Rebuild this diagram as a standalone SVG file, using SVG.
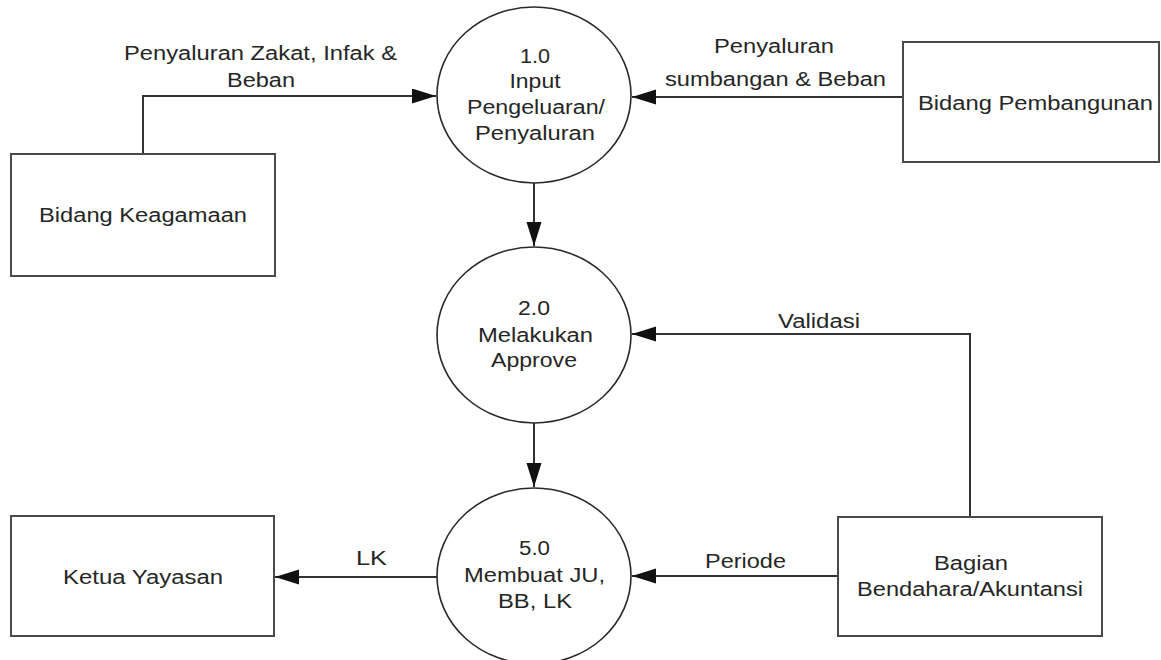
<svg xmlns="http://www.w3.org/2000/svg" width="1161" height="660" viewBox="0 0 1161 660">
  <style>
    .entity { fill: #ffffff; stroke: #4a4a4a; stroke-width: 2; }
    .process { fill: #ffffff; stroke: #2a2a2a; stroke-width: 1.6; }
    .flow { fill: none; stroke: #333333; stroke-width: 2; marker-end: url(#arrow); }
    text { font-family: "Liberation Sans", Arial, sans-serif; font-size: 20px; fill: #262626; text-anchor: middle; }
  </style>
  <defs>
    <marker id="arrow" markerUnits="userSpaceOnUse" markerWidth="25" markerHeight="16" refX="24" refY="7.5" orient="auto">
      <path d="M0,0 L24,7.5 L0,15 Z" fill="#111111"/>
    </marker>
  </defs>
  <rect width="1161" height="660" fill="#ffffff"/>

  <!-- data flows -->
  <g id="connectors">
    <polyline class="flow" points="143,154 143,96 436,96"/>
    <line class="flow" x1="903" y1="97" x2="632" y2="97"/>
    <line class="flow" x1="534" y1="183" x2="534" y2="246"/>
    <line class="flow" x1="534" y1="423" x2="534" y2="487"/>
    <polyline class="flow" points="970,517 970,334 632,334"/>
    <line class="flow" x1="838" y1="576" x2="632" y2="576"/>
    <line class="flow" x1="437" y1="577" x2="275" y2="577"/>

    <text x="260.5" y="60" textLength="273" lengthAdjust="spacingAndGlyphs">Penyaluran Zakat, Infak &amp;</text>
    <text x="261" y="87" textLength="68" lengthAdjust="spacingAndGlyphs">Beban</text>
    <text x="774" y="53" textLength="120" lengthAdjust="spacingAndGlyphs">Penyaluran</text>
    <text x="775.5" y="86" textLength="221" lengthAdjust="spacingAndGlyphs">sumbangan &amp; Beban</text>
    <text x="819" y="328" textLength="82" lengthAdjust="spacingAndGlyphs">Validasi</text>
    <text x="745.5" y="568" textLength="81" lengthAdjust="spacingAndGlyphs">Periode</text>
    <text x="371.5" y="565" textLength="31" lengthAdjust="spacingAndGlyphs">LK</text>
  </g>

  <!-- external entities -->
  <g id="bidang-keagamaan">
    <rect class="entity" x="11" y="154" width="264" height="122"/>
    <text x="143" y="222" textLength="208" lengthAdjust="spacingAndGlyphs">Bidang Keagamaan</text>
  </g>
  <g id="bidang-pembangunan">
    <rect class="entity" x="903" y="42" width="256" height="120"/>
    <text x="1035.5" y="110" textLength="235" lengthAdjust="spacingAndGlyphs">Bidang Pembangunan</text>
  </g>
  <g id="ketua-yayasan">
    <rect class="entity" x="11" y="516" width="263" height="120"/>
    <text x="143" y="584" textLength="160" lengthAdjust="spacingAndGlyphs">Ketua Yayasan</text>
  </g>
  <g id="bagian-bendahara">
    <rect class="entity" x="838" y="517" width="264" height="119"/>
    <text x="971" y="570" textLength="74" lengthAdjust="spacingAndGlyphs">Bagian</text>
    <text x="970" y="596" textLength="226" lengthAdjust="spacingAndGlyphs">Bendahara/Akuntansi</text>
  </g>

  <!-- processes -->
  <g id="proses-1">
    <ellipse class="process" cx="534" cy="95" rx="97" ry="88"/>
    <text x="535" y="63" textLength="30" lengthAdjust="spacingAndGlyphs">1.0</text>
    <text x="535" y="88" textLength="51" lengthAdjust="spacingAndGlyphs">Input</text>
    <text x="536" y="114" textLength="138" lengthAdjust="spacingAndGlyphs">Pengeluaran/</text>
    <text x="535" y="140" textLength="120" lengthAdjust="spacingAndGlyphs">Penyaluran</text>
  </g>
  <g id="proses-2">
    <ellipse class="process" cx="534" cy="335" rx="97" ry="88"/>
    <text x="534" y="315" textLength="32" lengthAdjust="spacingAndGlyphs">2.0</text>
    <text x="535.5" y="342" textLength="115" lengthAdjust="spacingAndGlyphs">Melakukan</text>
    <text x="534" y="367" textLength="86" lengthAdjust="spacingAndGlyphs">Approve</text>
  </g>
  <g id="proses-5">
    <ellipse class="process" cx="534" cy="576" rx="97" ry="88"/>
    <text x="534.5" y="555" textLength="31" lengthAdjust="spacingAndGlyphs">5.0</text>
    <text x="534.5" y="582" textLength="141" lengthAdjust="spacingAndGlyphs">Membuat JU,</text>
    <text x="535" y="608" textLength="74" lengthAdjust="spacingAndGlyphs">BB, LK</text>
  </g>
</svg>
